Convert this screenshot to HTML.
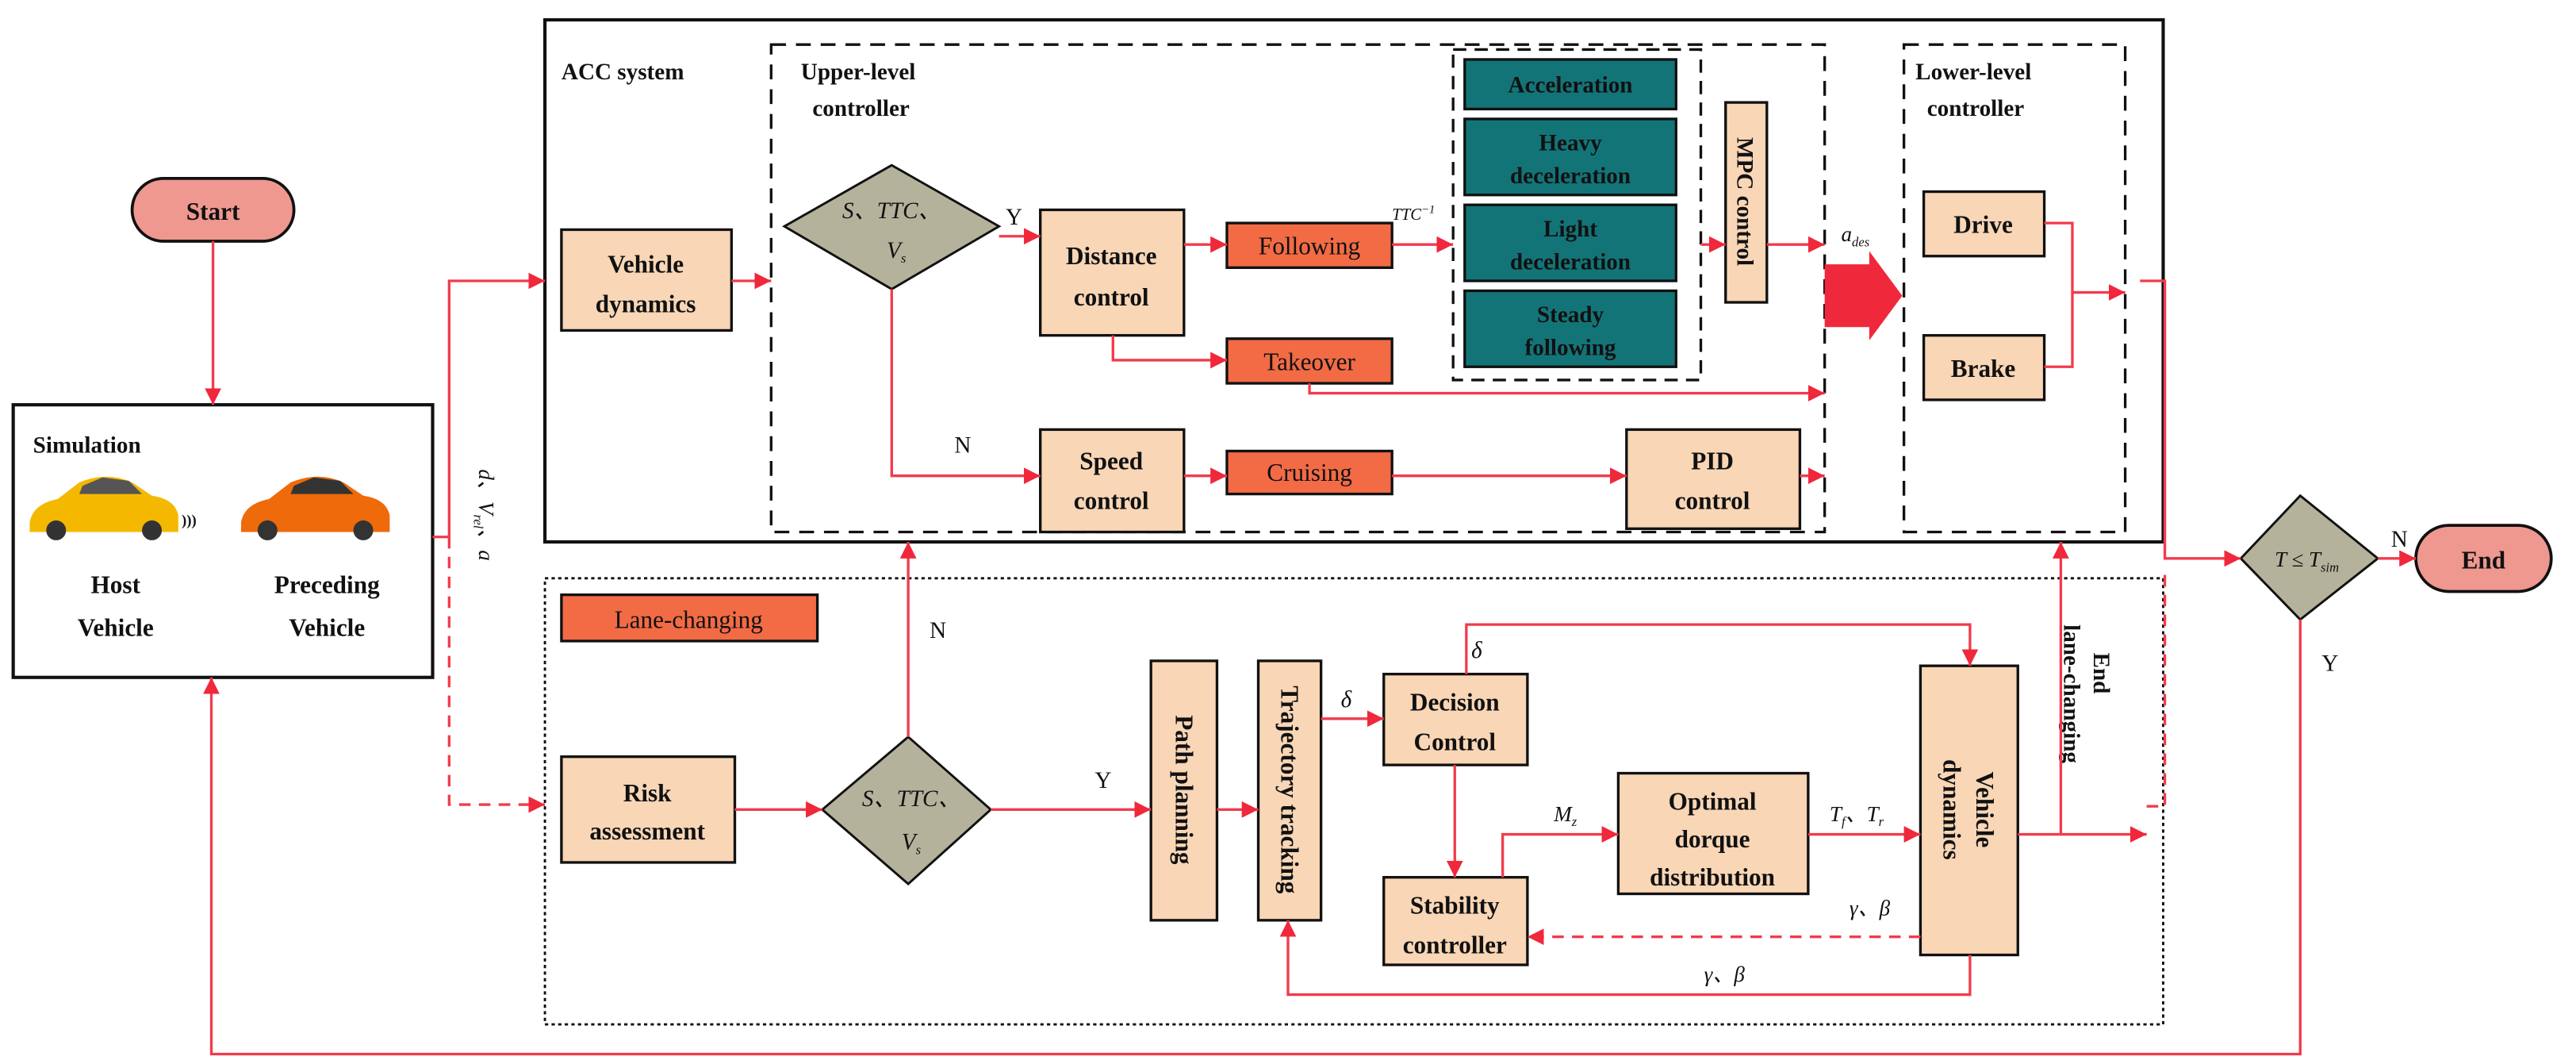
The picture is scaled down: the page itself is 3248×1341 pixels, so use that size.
<!DOCTYPE html>
<html><head><meta charset="utf-8"><style>
html,body{margin:0;padding:0;background:#fff}
svg{display:block}
text{font-family:"Liberation Serif",serif;font-weight:bold;fill:#111}
.i{font-style:italic;font-weight:normal}
</style></head><body>
<svg width="3248" height="1341" viewBox="0 0 1560 644" preserveAspectRatio="none" xmlns="http://www.w3.org/2000/svg">
<defs>
<marker id="a" viewBox="0 0 10 10" refX="10" refY="5" markerWidth="5" markerHeight="5" orient="auto" markerUnits="userSpaceOnUse"><path d="M0,0 L10,5 L0,10 z" fill="#f0283c"/></marker>
</defs>
<style>
.l{stroke:#f03c4c;stroke-width:1.6;fill:none}
.la{stroke:#f03c4c;stroke-width:1.6;fill:none;marker-end:url(#a)}
.d{stroke-dasharray:7,5}
.pb{fill:#f8d6b6;stroke:#111;stroke-width:1.6}
.ob{fill:#f26b45;stroke:#111;stroke-width:1.6}
.tb{fill:#137478;stroke:#111;stroke-width:1.6}
.dm{fill:#b5b29c;stroke:#111;stroke-width:1.4}
</style>
<g style="--x:0">
<!-- markers bigger -->
</g>
<defs><marker id="b" viewBox="0 0 10 10" refX="10" refY="5" markerWidth="10" markerHeight="10" orient="auto" markerUnits="userSpaceOnUse"><path d="M0,0 L10,5 L0,10 z" fill="#f0283c"/></marker></defs>
<style>.la{marker-end:url(#b)}</style>

<!-- outer boxes -->
<rect x="330" y="12" width="980" height="316" fill="none" stroke="#111" stroke-width="2"/>
<rect x="467" y="27" width="638" height="295" fill="none" stroke="#111" stroke-width="1.6" stroke-dasharray="9,6"/>
<rect x="1153" y="27" width="134" height="295" fill="none" stroke="#111" stroke-width="1.6" stroke-dasharray="9,6"/>
<rect x="880" y="30" width="150" height="200" fill="none" stroke="#111" stroke-width="1.6" stroke-dasharray="8,5"/>
<rect x="330" y="350" width="980" height="270" fill="none" stroke="#111" stroke-width="1.4" stroke-dasharray="2,2"/>
<rect x="8" y="245" width="254" height="165" fill="#fff" stroke="#111" stroke-width="2"/>

<text x="340" y="48" font-size="14">ACC system</text>
<text x="485" y="48" font-size="14">Upper-level</text>
<text x="492" y="70" font-size="14">controller</text>
<text x="1160" y="48" font-size="14">Lower-level</text>
<text x="1167" y="70" font-size="14">controller</text>
<text x="20" y="274" font-size="14">Simulation</text>

<!-- start / end -->
<rect x="80" y="108" width="98" height="38" rx="19" fill="#ee9890" stroke="#111" stroke-width="1.8"/>
<text x="129" y="133" font-size="15" text-anchor="middle">Start</text>
<rect x="1463" y="318" width="82" height="40" rx="20" fill="#ee9890" stroke="#111" stroke-width="1.8"/>
<text x="1504" y="344" font-size="15" text-anchor="middle">End</text>

<!-- cars -->
<g>
<path d="M18,316 Q20,305 35,302 L48,292 Q65,285 80,292 L92,300 Q106,302 108,312 L108,322 L18,322 Z" fill="#f5b800"/>
<path d="M50,294 L62,289 L78,291 L86,299 L48,299 Z" fill="#555"/>
<circle cx="34" cy="321" r="6" fill="#333"/><circle cx="92" cy="321" r="6" fill="#333"/>
<text x="110" y="318" font-size="9" style="font-weight:bold">)))</text>
<path d="M146,316 Q148,305 163,302 L176,292 Q193,285 208,292 L220,300 Q234,302 236,312 L236,322 L146,322 Z" fill="#ee6a0a"/>
<path d="M178,294 L190,289 L206,291 L214,299 L176,299 Z" fill="#333"/>
<circle cx="162" cy="321" r="6" fill="#333"/><circle cx="220" cy="321" r="6" fill="#333"/>
</g>
<text x="70" y="359" font-size="15" text-anchor="middle">Host</text>
<text x="70" y="385" font-size="15" text-anchor="middle">Vehicle</text>
<text x="198" y="359" font-size="15" text-anchor="middle">Preceding</text>
<text x="198" y="385" font-size="15" text-anchor="middle">Vehicle</text>
<text transform="translate(290,284) rotate(90)" font-size="13" class="i">d、V<tspan font-size="8" dy="3">rel</tspan><tspan dy="-3">、a</tspan></text>

<!-- ACC nodes -->
<rect x="340" y="139" width="103" height="61" class="pb"/>
<text x="391" y="165" font-size="15" text-anchor="middle">Vehicle</text>
<text x="391" y="189" font-size="15" text-anchor="middle">dynamics</text>
<path d="M540,100 L605,137 L540,175 L475,137 Z" class="dm"/>
<text x="540" y="132" font-size="14" class="i" text-anchor="middle">S、TTC、</text>
<text x="537" y="156" font-size="14" class="i">V<tspan font-size="8" dy="3">s</tspan></text>

<rect x="630" y="127" width="87" height="76" class="pb"/>
<text x="673" y="160" font-size="15" text-anchor="middle">Distance</text>
<text x="673" y="185" font-size="15" text-anchor="middle">control</text>
<rect x="743" y="135" width="100" height="27" class="ob"/>
<text x="793" y="154" font-size="15" text-anchor="middle" style="font-weight:normal">Following</text>
<rect x="743" y="205" width="100" height="27" class="ob"/>
<text x="793" y="224" font-size="15" text-anchor="middle" style="font-weight:normal">Takeover</text>
<rect x="630" y="260" width="87" height="62" class="pb"/>
<text x="673" y="284" font-size="15" text-anchor="middle">Speed</text>
<text x="673" y="308" font-size="15" text-anchor="middle">control</text>
<rect x="743" y="273" width="100" height="26" class="ob"/>
<text x="793" y="291" font-size="15" text-anchor="middle" style="font-weight:normal">Cruising</text>
<rect x="985" y="260" width="105" height="60" class="pb"/>
<text x="1037" y="284" font-size="15" text-anchor="middle">PID</text>
<text x="1037" y="308" font-size="15" text-anchor="middle">control</text>

<rect x="887" y="36" width="128" height="30" class="tb"/>
<text x="951" y="56" font-size="14" text-anchor="middle">Acceleration</text>
<rect x="887" y="72" width="128" height="46" class="tb"/>
<text x="951" y="91" font-size="14" text-anchor="middle">Heavy</text>
<text x="951" y="111" font-size="14" text-anchor="middle">deceleration</text>
<rect x="887" y="124" width="128" height="46" class="tb"/>
<text x="951" y="143" font-size="14" text-anchor="middle">Light</text>
<text x="951" y="163" font-size="14" text-anchor="middle">deceleration</text>
<rect x="887" y="176" width="128" height="46" class="tb"/>
<text x="951" y="195" font-size="14" text-anchor="middle">Steady</text>
<text x="951" y="215" font-size="14" text-anchor="middle">following</text>

<rect x="1045" y="62" width="25" height="121" class="pb"/>
<text transform="translate(1052,122) rotate(90)" font-size="14" text-anchor="middle">MPC control</text>
<path d="M1105,160 L1132,160 L1132,152 L1152,179 L1132,206 L1132,198 L1105,198 Z" fill="#f0283c"/>
<text x="1115" y="146" font-size="13" class="i">a<tspan font-size="8" dy="3">des</tspan></text>

<rect x="1165" y="116" width="73" height="39" class="pb"/>
<text x="1201" y="141" font-size="15" text-anchor="middle">Drive</text>
<rect x="1165" y="203" width="73" height="39" class="pb"/>
<text x="1201" y="228" font-size="15" text-anchor="middle">Brake</text>

<path d="M1357,338 L1393,300 L1440,338 L1393,375 Z" transform="translate(0,0)" class="dm"/>
<text x="1397" y="343" font-size="13" class="i" text-anchor="middle">T ≤ T<tspan font-size="8" dy="3">sim</tspan></text>

<!-- Lane-changing nodes -->
<rect x="340" y="360" width="155" height="28" class="ob"/>
<text x="417" y="380" font-size="15" text-anchor="middle" style="font-weight:normal">Lane-changing</text>
<rect x="340" y="458" width="105" height="64" class="pb"/>
<text x="392" y="485" font-size="15" text-anchor="middle">Risk</text>
<text x="392" y="508" font-size="15" text-anchor="middle">assessment</text>
<path d="M550,446 L600,490 L550,535 L498,490 Z" class="dm"/>
<text x="552" y="488" font-size="14" class="i" text-anchor="middle">S、TTC、</text>
<text x="546" y="514" font-size="14" class="i">V<tspan font-size="8" dy="3">s</tspan></text>
<rect x="697" y="400" width="40" height="157" class="pb"/>
<text transform="translate(712,478) rotate(90)" font-size="15" text-anchor="middle">Path planning</text>
<rect x="762" y="400" width="38" height="157" class="pb"/>
<text transform="translate(776,478) rotate(90)" font-size="15" text-anchor="middle">Trajectory tracking</text>
<rect x="838" y="408" width="87" height="55" class="pb"/>
<text x="881" y="430" font-size="15" text-anchor="middle">Decision</text>
<text x="881" y="454" font-size="15" text-anchor="middle">Control</text>
<rect x="838" y="531" width="87" height="53" class="pb"/>
<text x="881" y="553" font-size="15" text-anchor="middle">Stability</text>
<text x="881" y="577" font-size="15" text-anchor="middle">controller</text>
<rect x="980" y="468" width="115" height="73" class="pb"/>
<text x="1037" y="490" font-size="15" text-anchor="middle">Optimal</text>
<text x="1037" y="513" font-size="15" text-anchor="middle">dorque</text>
<text x="1037" y="536" font-size="15" text-anchor="middle">distribution</text>
<rect x="1163" y="403" width="59" height="175" class="pb"/>
<text transform="translate(1197,490) rotate(90)" font-size="15" text-anchor="middle">Vehicle</text>
<text transform="translate(1177,490) rotate(90)" font-size="15" text-anchor="middle">dynamics</text>
<text transform="translate(1268,395) rotate(90)" font-size="14">End</text>
<text transform="translate(1250,378) rotate(90)" font-size="14">lane-changing</text>

<!-- connectors -->
<path d="M129,146 L129,245" class="la"/>
<path d="M262,325 L272,325 L272,170 L330,170" class="la"/>
<path d="M272,325 L272,487 L330,487" class="la d"/>
<path d="M443,170 L467,170" class="la"/>
<path d="M605,143 L630,143" class="la"/>
<text x="609" y="136" font-size="14" style="font-weight:normal">Y</text>
<path d="M540,175 L540,288 L630,288" class="la"/>
<text x="578" y="274" font-size="14" style="font-weight:normal">N</text>
<path d="M717,148 L743,148" class="la"/>
<path d="M843,148 L880,148" class="la"/>
<text x="843" y="133" font-size="10" class="i">TTC<tspan font-size="7" dy="-4">−1</tspan></text>
<path d="M674,203 L674,218 L743,218" class="la"/>
<path d="M793,232 L793,238 L1105,238" class="la"/>
<path d="M1030,148 L1045,148" class="la"/>
<path d="M1070,148 L1105,148" class="la"/>
<path d="M717,288 L743,288" class="la"/>
<path d="M843,288 L985,288" class="la"/>
<path d="M1090,288 L1105,288" class="la"/>
<path d="M1238,135 L1255,135 L1255,222 L1238,222" class="l"/>
<path d="M1255,177 L1287,177" class="la"/>
<path d="M1296,170 L1311,170 L1311,338 L1357,338" class="la"/>
<path d="M1300,488 L1311,488 L1311,345" class="l d"/>
<path d="M1440,338 L1463,338" class="la"/>
<text x="1448" y="331" font-size="14" style="font-weight:normal">N</text>
<path d="M1393,375 L1393,638 L128,638 L128,410" class="la"/>
<text x="1406" y="406" font-size="14" style="font-weight:normal">Y</text>

<path d="M445,490 L498,490" class="la"/>
<path d="M550,446 L550,328" class="la"/>
<text x="563" y="386" font-size="14" style="font-weight:normal">N</text>
<path d="M600,490 L697,490" class="la"/>
<text x="663" y="477" font-size="14" style="font-weight:normal">Y</text>
<path d="M737,490 L762,490" class="la"/>
<path d="M800,435 L838,435" class="la"/>
<text x="812" y="428" font-size="14" class="i">δ</text>
<path d="M888,408 L888,378 L1193,378 L1193,403" class="la"/>
<text x="891" y="398" font-size="14" class="i">δ</text>
<path d="M881,463 L881,531" class="la"/>
<path d="M910,531 L910,505 L980,505" class="la"/>
<text x="941" y="497" font-size="13" class="i">M<tspan font-size="8" dy="3">z</tspan></text>
<path d="M1095,505 L1163,505" class="la"/>
<text x="1108" y="497" font-size="13" class="i">T<tspan font-size="8" dy="3">f</tspan><tspan dy="-3">、T</tspan><tspan font-size="8" dy="3">r</tspan></text>
<path d="M1222,505 L1300,505" class="la"/>
<path d="M1248,505 L1248,328" class="la"/>
<path d="M1163,567 L925,567" class="la d"/>
<text x="1120" y="554" font-size="13" class="i">γ、β</text>
<path d="M1193,578 L1193,602 L780,602 L780,557" class="la"/>
<text x="1032" y="594" font-size="13" class="i">γ、β</text>
</svg>
</body></html>
